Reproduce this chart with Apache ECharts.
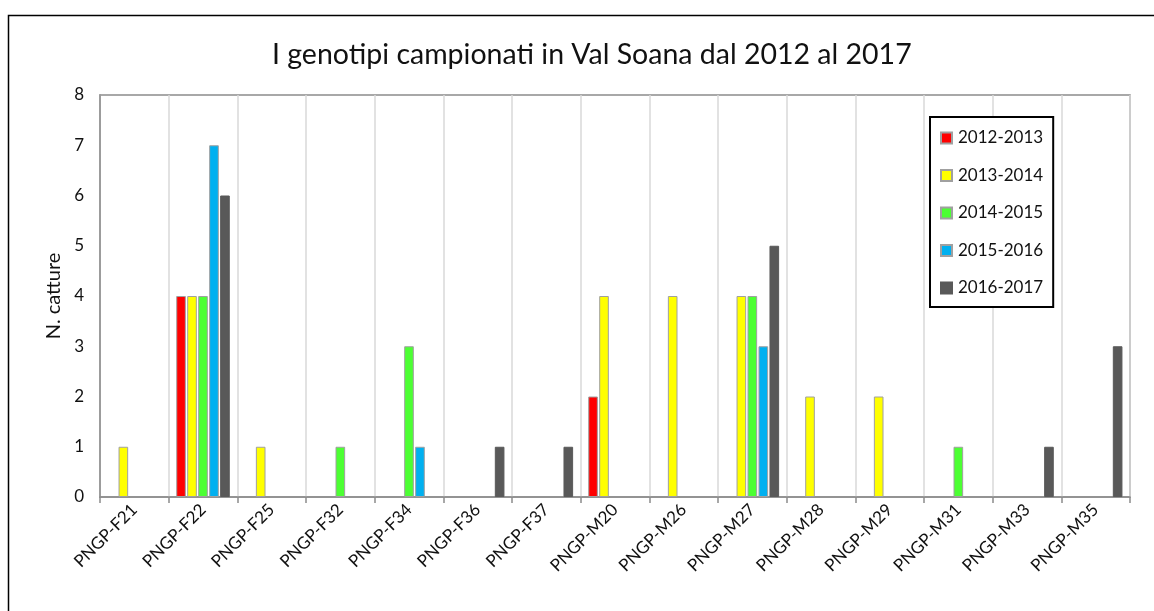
<!DOCTYPE html>
<html>
<head>
<meta charset="utf-8">
<script src="https://cdn.jsdelivr.net/npm/echarts@6/dist/echarts.min.js"></script>
<style>
  html, body { margin: 0; padding: 0; background: #fff; }
  #chart { width: 1154px; height: 611px; }
</style>
</head>
<body>
<div id="chart"></div>
<script>
// Genotypes sampled per season (number of captures)
const categories = ['PNGP-F21', 'PNGP-F22', 'PNGP-F25', 'PNGP-F32', 'PNGP-F34', 'PNGP-F36', 'PNGP-F37',
  'PNGP-M20', 'PNGP-M26', 'PNGP-M27', 'PNGP-M28', 'PNGP-M29', 'PNGP-M31', 'PNGP-M33', 'PNGP-M35'];
const seasons = ['2012-2013', '2013-2014', '2014-2015', '2015-2016', '2016-2017'];
const s2012_2013 = [0, 4, 0, 0, 0, 0, 0, 2, 0, 0, 0, 0, 0, 0, 0];
const s2013_2014 = [1, 4, 1, 0, 0, 0, 0, 4, 4, 4, 2, 2, 0, 0, 0];
const s2014_2015 = [0, 4, 0, 1, 3, 0, 0, 0, 0, 4, 0, 0, 1, 0, 0];
const s2015_2016 = [0, 7, 0, 0, 1, 0, 0, 0, 0, 3, 0, 0, 0, 0, 0];
const s2016_2017 = [0, 6, 0, 0, 0, 1, 1, 0, 0, 5, 0, 0, 0, 1, 3];
const yTicks = [0, 1, 2, 3, 4, 5, 6, 7, 8];

const seriesValues = [s2012_2013, s2013_2014, s2014_2015, s2015_2016, s2016_2017];
const seriesColors = ['#ff0000', '#ffff00', '#4cff33', '#00b0f0', '#595959'];
const seriesBorders = ['#a0a0a0', '#a0a0a0', '#a0a0a0', '#a0a0a0', '#595959'];

const font = 'Lato, "Open Sans", sans-serif';
const chart = echarts.init(document.getElementById('chart'), null, { renderer: 'canvas' });

chart.setOption({
  backgroundColor: '#ffffff',
  animation: false,
  textStyle: { fontFamily: font },
  graphic: [{
    type: 'rect',
    shape: { x: 8.5, y: 15.5, width: 1300, height: 800 },
    style: { fill: 'none', stroke: '#000', lineWidth: 1.5 },
    silent: true,
    z: -10
  }],
  title: {
    text: 'I genotipi campionati in Val Soana dal 2012 al 2017',
    left: 267,
    top: 35,
    textStyle: { fontFamily: font, fontSize: 28.5, fontWeight: 'normal', color: '#111' }
  },
  legend: {
    orient: 'vertical',
    left: 930,
    top: 117,
    data: seasons,
    icon: 'rect',
    itemWidth: 11,
    itemHeight: 11,
    itemGap: 19.5,
    padding: [12, 10, 10, 10],
    borderColor: '#000',
    borderWidth: 2,
    backgroundColor: '#fff',
    textStyle: { fontFamily: font, fontSize: 17, color: '#111', lineHeight: 18, padding: [0, 0, 0, 1] }
  },
  grid: {
    left: 100, top: 95, right: 24, bottom: 114,
    show: true, borderColor: '#8c8c8c', borderWidth: 1.5,
    containLabel: false
  },
  xAxis: {
    type: 'category',
    data: categories,
    axisLine: { lineStyle: { color: '#8c8c8c', width: 1.5 } },
    axisTick: { show: true, length: 6, lineStyle: { color: '#8c8c8c', width: 1.5 } },
    splitLine: { show: true, lineStyle: { color: '#d9d9d9', width: 1.5 } },
    axisLabel: { rotate: 45, fontSize: 17, color: '#111', fontFamily: font, margin: 10 }
  },
  yAxis: {
    type: 'value',
    min: yTicks[0],
    max: yTicks[yTicks.length - 1],
    interval: 1,
    name: 'N. catture',
    nameLocation: 'middle',
    nameGap: 36,
    nameTextStyle: { fontFamily: font, fontSize: 20, color: '#111' },
    axisLine: { show: true, lineStyle: { color: '#8c8c8c', width: 1.5 } },
    axisTick: { show: false },
    splitLine: { show: false },
    axisLabel: { fontSize: 17, color: '#111', fontFamily: font, margin: 16 }
  },
  series: seasons.map((name, i) => ({
    name: name,
    type: 'bar',
    barCategoryGap: '22%',
    barGap: '14%',
    data: seriesValues[i].map(v => (v === 0 ? '-' : v)),
    itemStyle: { color: seriesColors[i], borderColor: seriesBorders[i], borderWidth: 1 }
  }))
});
</script>
</body>
</html>
